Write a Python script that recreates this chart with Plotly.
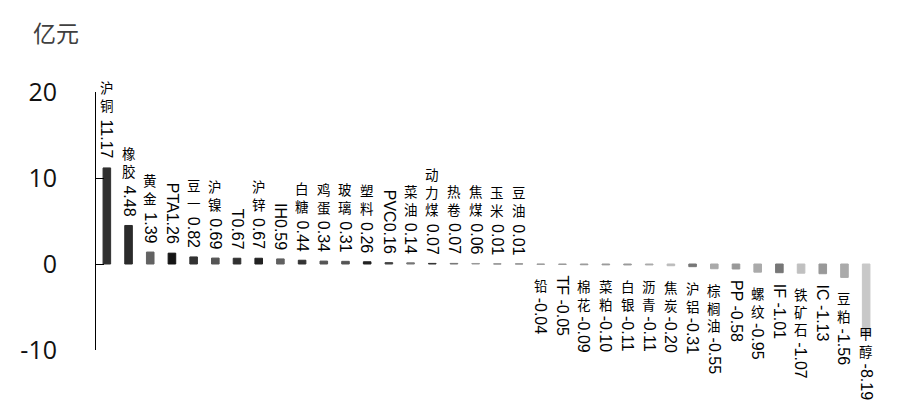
import plotly.graph_objects as go

names = ['沪铜', '橡胶', '黄金', 'PTA', '豆一', '沪镍', 'T', '沪锌', 'IH', '白糖', '鸡蛋', '玻璃',
         '塑料', 'PVC', '菜油', '动力煤', '热卷', '焦煤', '玉米', '豆油', '铅', 'TF', '棉花', '菜粕',
         '白银', '沥青', '焦炭', '沪铝', '棕榈油', 'PP', '螺纹', 'IF', '铁矿石', 'IC', '豆粕', '甲醇']
values = [11.17, 4.48, 1.39, 1.26, 0.82, 0.69, 0.67, 0.67, 0.59, 0.44, 0.34, 0.31,
          0.26, 0.16, 0.14, 0.07, 0.07, 0.06, 0.01, 0.01, -0.04, -0.05, -0.09, -0.10,
          -0.11, -0.11, -0.20, -0.31, -0.55, -0.58, -0.95, -1.01, -1.07, -1.13, -1.56, -8.19]
bar_colors = ['#303030', '#2b2b2b', '#626262', '#151515', '#333333', '#555555', '#303030', '#222222',
              '#606060', '#333333', '#555555', '#555555', '#222222', '#444444', '#777777', '#333333',
              '#777777', '#999999', '#888888', '#888888', '#999999', '#999999', '#999999', '#999999',
              '#999999', '#aaaaaa', '#bbbbbb', '#777777', '#aaaaaa', '#999999', '#aaaaaa', '#777777',
              '#c0c0c0', '#999999', '#aaaaaa', '#c8c8c8']
y_ticks = [-10, 0, 10, 20]
y_tick_text = ['-10', '0', '10', '20']
unit = '亿元'

CJK_FONT = 'Noto Sans CJK SC'
NUM_FONT = 'Liberation Sans'
CJK_SIZE = 13.5
NUM_SIZE = 16
label_floor = -5.6  # labels of long negative bars are kept inside the chart

# rough Arial advance widths, used to stack the upright CJK part on the rotated number
widths = {'.': 0.278, '-': 0.333, ' ': 0.278, 'I': 0.278, 'T': 0.611, 'F': 0.611,
          'P': 0.667, 'A': 0.667, 'V': 0.667, 'C': 0.722, 'H': 0.722}


def text_len(s):
    return sum(widths.get(c, 0.556) for c in s) * NUM_SIZE


def is_cjk(s):
    return any(ord(c) > 0x2e80 for c in s)


fig = go.Figure(go.Bar(
    x=names, y=values,
    marker=dict(color=bar_colors, line=dict(color=bar_colors, width=1)),
    hoverinfo='x+y'
))

gap_pos, gap_neg = 8, 10
line_h = CJK_SIZE * 1.3
num_font = dict(family=NUM_FONT, size=NUM_SIZE, color='#000')
cjk_font = dict(family=CJK_FONT, size=CJK_SIZE, color='#000')
for name, v in zip(names, values):
    num = f'{v:.2f}'
    if v >= 0:
        if is_cjk(name):
            fig.add_annotation(x=name, y=v, text=num, textangle=90, showarrow=False,
                               yanchor='bottom', xanchor='center', yshift=gap_pos, borderpad=0,
                               font=num_font)
            fig.add_annotation(x=name, y=v, text='<br>'.join(name), showarrow=False,
                               yanchor='bottom', xanchor='center', borderpad=0,
                               yshift=gap_pos + text_len(num) + 4, font=cjk_font)
        else:
            fig.add_annotation(x=name, y=v, text=name + num, textangle=90, showarrow=False,
                               yanchor='bottom', xanchor='center', yshift=gap_pos, borderpad=0,
                               font=num_font)
    else:
        ya = max(v, label_floor)
        if is_cjk(name):
            fig.add_annotation(x=name, y=ya, text='<br>'.join(name), showarrow=False,
                               yanchor='top', xanchor='center', yshift=-gap_neg, borderpad=0,
                               font=cjk_font)
            fig.add_annotation(x=name, y=ya, text=num, textangle=90, showarrow=False,
                               yanchor='top', xanchor='center', borderpad=0,
                               yshift=-(gap_neg + len(name) * line_h + 5), font=num_font)
        else:
            fig.add_annotation(x=name, y=ya, text=name + ' ' + num, textangle=90, showarrow=False,
                               yanchor='top', xanchor='center', yshift=-gap_neg, borderpad=0,
                               font=num_font)

fig.add_annotation(xref='paper', yref='paper', x=-0.083, y=1.16, text=unit, showarrow=False,
                   xanchor='left', yanchor='bottom',
                   font=dict(family=CJK_FONT, size=23, color='#404040'))

# the page body adds 8px around the figure, so the figure is 8px smaller than the window
fig.update_layout(
    width=892, height=408,
    margin=dict(l=84, r=23, t=84, b=66),
    paper_bgcolor='white', plot_bgcolor='white',
    bargap=0.65,
    showlegend=False,
)
fig.update_xaxes(visible=False, range=[-0.5, len(names) - 0.5])
fig.update_yaxes(
    range=[-10, 20], tickvals=y_ticks, ticktext=y_tick_text, showgrid=False, zeroline=False,
    showline=True, linecolor='#000', linewidth=1,
    ticks='inside', ticklen=8, tickcolor='#000', tickwidth=1,
    ticklabelstandoff=33,
    tickfont=dict(family='Open Sans', size=25, color='#111'),
)

fig.write_html('out.html')
